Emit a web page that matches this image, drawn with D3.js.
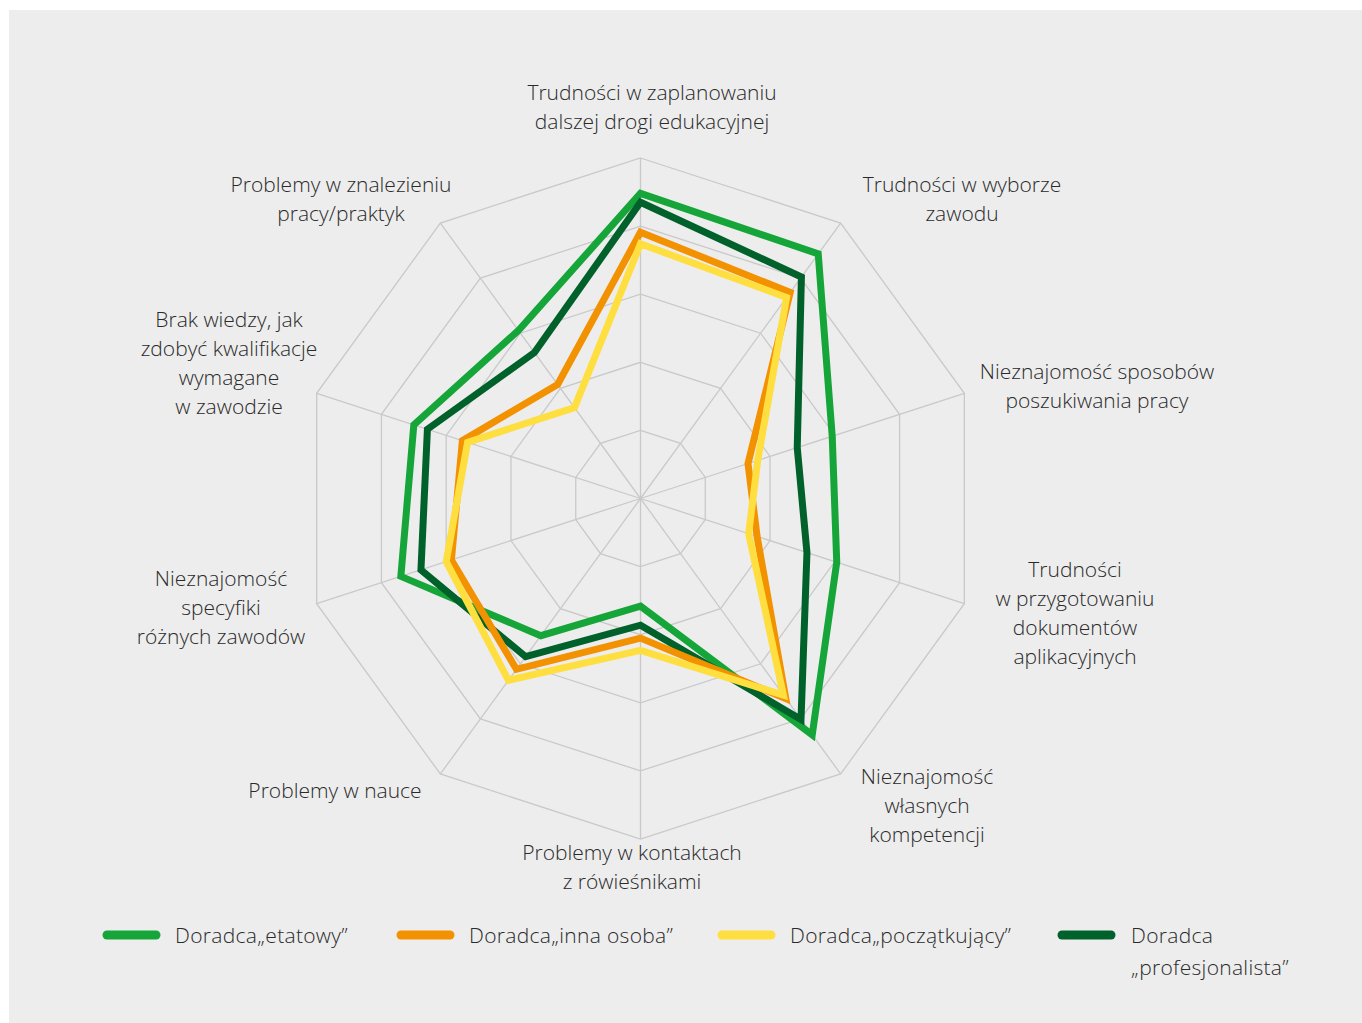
<!DOCTYPE html>
<html>
<head>
<meta charset="utf-8">
<script src="https://cdn.jsdelivr.net/npm/d3@7"></script>
<style>
  html, body { margin: 0; padding: 0; background: #ffffff; }
  svg { display: block; }
  text { font-family: "Open Sans", "Noto Sans", sans-serif; font-weight: 300; fill: #2a2a2a; }
</style>
</head>
<body>
<script>
// ---- data ----
const axes = [
  ["Trudności w zaplanowaniu", "dalszej drogi edukacyjnej"],
  ["Trudności w wyborze", "zawodu"],
  ["Nieznajomość sposobów", "poszukiwania pracy"],
  ["Trudności", "w przygotowaniu", "dokumentów", "aplikacyjnych"],
  ["Nieznajomość", "własnych", "kompetencji"],
  ["Problemy w kontaktach", "z rówieśnikami"],
  ["Problemy w nauce"],
  ["Nieznajomość", "specyfiki", "różnych zawodów"],
  ["Brak wiedzy, jak", "zdobyć kwalifikacje", "wymagane", "w zawodzie"],
  ["Problemy w znalezieniu", "pracy/praktyk"]
];
const seriesNames = ["Doradca„etatowy”", "Doradca„inna osoba”", "Doradca„początkujący”", "Doradca „profesjonalista”"];
const etatowy        = [44.8, 44.4, 29.6, 30.3, 42.9, 15.8, 24.9, 37.0, 35.0, 30.5];
const innaOsoba      = [39.1, 37.4, 16.6, 18.0, 36.3, 20.5, 31.0, 29.2, 27.5, 20.7];
const poczatkujacy   = [37.4, 36.5, 18.1, 16.7, 35.7, 22.3, 33.0, 30.0, 26.7, 16.5];
const profesjonalista= [43.5, 40.2, 24.2, 25.7, 40.1, 18.6, 28.7, 33.9, 32.9, 26.5];
const gridTicks = [10, 20, 30, 40, 50];
const colors = ["#15a538", "#f39200", "#ffde40", "#00612a"];

// ---- layout ----
const W = 1362, H = 1023;
const cx = 640.5, cy = 498.5, R = 340.5;
const svg = d3.select("body").append("svg").attr("width", W).attr("height", H);
svg.append("rect").attr("x", 9).attr("y", 10).attr("width", W - 9).attr("height", H - 10).attr("fill", "#ededed");

const g = svg.append("g").attr("transform", `translate(${cx},${cy})`);
const r = d3.scaleLinear().domain([0, 50]).range([0, R]);
const angle = d3.scalePoint().domain(d3.range(axes.length)).range([0, 2 * Math.PI * (axes.length - 1) / axes.length]);

const pt = (i, v) => [r(v) * Math.sin(angle(i)), -r(v) * Math.cos(angle(i))];

// grid polygons
gridTicks.forEach(t => {
  g.append("path")
    .attr("d", d3.line().curve(d3.curveLinearClosed)(d3.range(axes.length).map(i => pt(i, t))))
    .attr("fill", "none").attr("stroke", "#c9c9c9").attr("stroke-width", 1.3);
});
// spokes
d3.range(axes.length).forEach(i => {
  const p = pt(i, 50);
  g.append("line").attr("x1", 0).attr("y1", 0).attr("x2", p[0]).attr("y2", p[1])
    .attr("stroke", "#c9c9c9").attr("stroke-width", 1.3);
});

// series (draw order)
const series = [
  {vals: etatowy, c: colors[0]},
  {vals: profesjonalista, c: colors[3]},
  {vals: innaOsoba, c: colors[1]},
  {vals: poczatkujacy, c: colors[2]}
];
const radial = d3.lineRadial().angle((d, i) => angle(i)).radius(d => r(d)).curve(d3.curveLinearClosed);
series.forEach(s => {
  g.append("path").attr("d", radial(s.vals))
    .attr("fill", "none").attr("stroke", s.c).attr("stroke-width", 7)
    .attr("stroke-linejoin", "miter").attr("stroke-miterlimit", 4);
});

// axis labels: centre x and first-line baseline
const labelPos = [
  [652, 100], [962, 192], [1097, 379], [1075, 577], [927, 784],
  [632, 860], [335, 798], [221, 586], [229, 327], [341, 192]
];
const lh = 29;
axes.forEach((lines, i) => {
  const t = svg.append("text").attr("text-anchor", "middle").attr("font-size", 21);
  lines.forEach((ln, j) => {
    t.append("tspan").attr("x", labelPos[i][0]).attr("y", labelPos[i][1] + j * lh).text(ln);
  });
});

// legend
const legendX = [103, 397, 718, 1058];
const legendY = 935;
[0, 1, 2, 3].forEach((k, idx) => {
  const x = legendX[idx];
  svg.append("line").attr("x1", x + 4).attr("x2", x + 53).attr("y1", legendY).attr("y2", legendY)
    .attr("stroke", colors[k]).attr("stroke-width", 9).attr("stroke-linecap", "round");
  const t = svg.append("text").attr("font-size", 21).attr("letter-spacing", 0.3);
  if (k === 3) {
    t.append("tspan").attr("x", x + 73).attr("y", legendY + 8).text("Doradca");
    t.append("tspan").attr("x", x + 73).attr("y", legendY + 40).text("„profesjonalista”");
  } else {
    t.append("tspan").attr("x", x + 72).attr("y", legendY + 8).text(seriesNames[k]);
  }
});
</script>
</body>
</html>
